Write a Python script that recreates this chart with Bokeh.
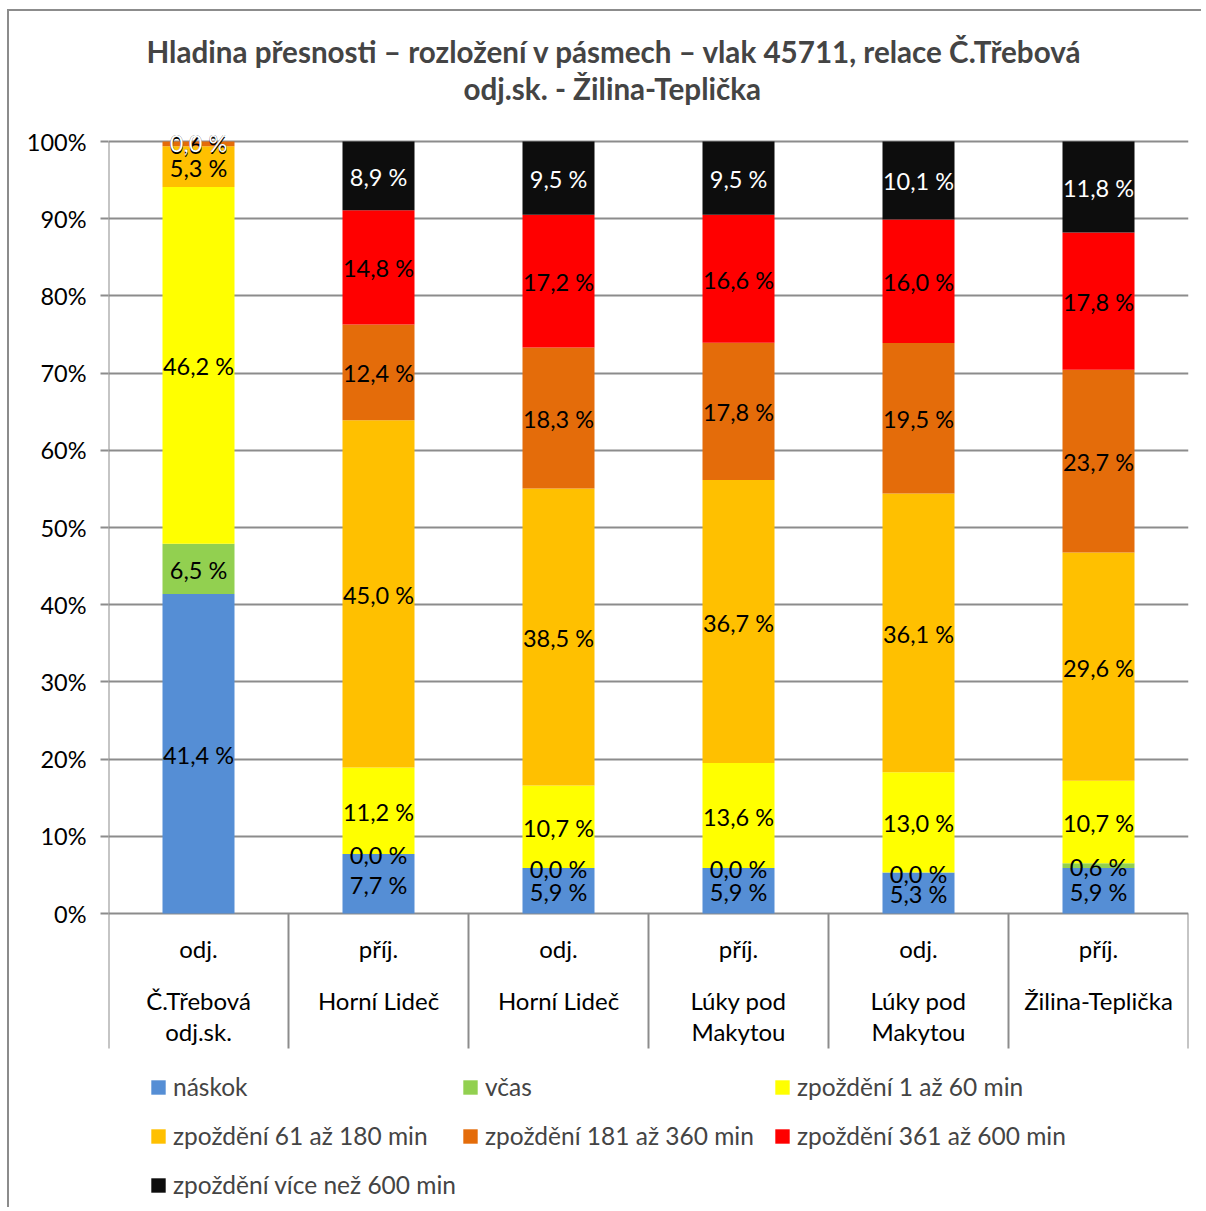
from bokeh.plotting import figure
from bokeh.models import (ColumnDataSource, FactorRange, Range1d, FixedTicker,
                          Legend, LegendItem, Title)
from bokeh.core.properties import value
from bokeh.embed import file_html
from bokeh.resources import INLINE

# ---------------- data ----------------
categories = ["odj. Č.Třebová odj.sk.", "příj. Horní Lideč", "odj. Horní Lideč",
              "příj. Lúky pod Makytou", "odj. Lúky pod Makytou", "příj. Žilina-Teplička"]
cat_type = ["odj.", "příj.", "odj.", "příj.", "odj.", "příj."]
cat_station = ["Č.Třebová\nodj.sk.", "Horní Lideč", "Horní Lideč",
               "Lúky pod\nMakytou", "Lúky pod\nMakytou", "Žilina-Teplička"]

series_names = ["náskok", "včas", "zpoždění 1 až 60 min", "zpoždění 61 až 180 min",
                "zpoždění 181 až 360 min", "zpoždění 361 až 600 min",
                "zpoždění více než 600 min"]
naskok = [41.4, 7.7, 5.9, 5.9, 5.3, 5.9]
vcas = [6.5, 0.0, 0.0, 0.0, 0.0, 0.6]
zp_1_60 = [46.2, 11.2, 10.7, 13.6, 13.0, 10.7]
zp_61_180 = [5.3, 45.0, 38.5, 36.7, 36.1, 29.6]
zp_181_360 = [0.6, 12.4, 18.3, 17.8, 19.5, 23.7]
zp_361_600 = [0.0, 14.8, 17.2, 16.6, 16.0, 17.8]
zp_600 = [0.0, 8.9, 9.5, 9.5, 10.1, 11.8]

y_ticks = [0, 10, 20, 30, 40, 50, 60, 70, 80, 90, 100]
y_tick_labels = ["0%", "10%", "20%", "30%", "40%", "50%", "60%", "70%", "80%", "90%", "100%"]

title_line1 = "Hladina přesnosti – rozložení v pásmech – vlak 45711, relace Č.Třebová"
title_line2 = "odj.sk. - Žilina-Teplička"

colors = ["#558ED5", "#92D050", "#FFFF00", "#FFC000", "#E46C0A", "#FF0000", "#0D0D0D"]
label_colors = ["black", "black", "black", "black", "black", "black", "white"]

series = [naskok, vcas, zp_1_60, zp_61_180, zp_181_360, zp_361_600, zp_600]
keys = ["s%d" % i for i in range(len(series))]

# 100 % stacked: normalise each column to its total
totals = [sum(s[j] for s in series) for j in range(len(categories))]
data = {"x": categories}
for k, s in zip(keys, series):
    data[k] = [v / t * 100.0 for v, t in zip(s, totals)]
src = ColumnDataSource(data)

FONT = "Lato"
PX = 7.72  # px per percent (frame geometry only)
FRAME_TOP_PAD = 21
FRAME_BOTTOM_PAD = 296

p = figure(x_range=FactorRange(*categories, range_padding=0),
           y_range=Range1d(-FRAME_BOTTOM_PAD / PX, 100 + FRAME_TOP_PAD / PX),
           width=1194, height=1198, output_backend="svg", toolbar_location=None,
           x_axis_location=None, title=title_line1,
           min_border_left=99, min_border_right=15, min_border_top=109, min_border_bottom=0)
p.styles = {"margin-left": "7px", "margin-top": "9px",
            "border-left": "2px solid #8c8c8c", "border-top": "2px solid #8c8c8c"}
p.outline_line_color = None
p.background_fill_color = "white"
p.border_fill_color = "white"

# titles
p.title.text_font = FONT
p.title.text_font_size = "29.6px"
p.title.text_font_style = "bold"
p.title.align = "left"
p.title.offset = 38
p.title.standoff = -28
t2 = Title(text=title_line2, text_font=FONT, text_font_size="29.6px",
           text_font_style="bold", align="left", offset=355, standoff=29)
p.add_layout(t2, "above")

# y axis
yax = p.yaxis[0]
yax.ticker = FixedTicker(ticks=y_ticks)
yax.major_label_overrides = {t: l for t, l in zip(y_ticks, y_tick_labels)}
yax.axis_line_color = None
yax.major_tick_in = 0
yax.major_tick_out = 8
yax.major_tick_line_color = "#8c8c8c"
yax.major_tick_line_width = 2
yax.minor_tick_line_color = None
yax.major_label_text_font = FONT
yax.major_label_text_font_size = "23.5px"
yax.major_label_text_color = "black"
yax.major_label_standoff = 14

p.xgrid.visible = False
p.ygrid.ticker = FixedTicker(ticks=y_ticks)
p.ygrid.grid_line_color = "#8c8c8c"
p.ygrid.grid_line_width = 2

# bars
renderers = p.vbar_stack(keys, x="x", width=0.4, color=colors, source=src, line_width=0)

# separators / left axis line
n = len(categories)
bottom_sep = -135 / PX
p.segment(x0=list(range(n + 1)), x1=list(range(n + 1)),
          y0=[100] + [0] * n, y1=[bottom_sep] * (n + 1),
          line_color="#8c8c8c", line_width=2)

# value labels
lx, ly, lt, lc = [], [], [], []
for j, c in enumerate(categories):
    base = 0.0
    for i, k in enumerate(keys):
        v = data[k][j]
        lx.append(c)
        ly.append(base + v / 2.0)
        lt.append(("%.1f %%" % series[i][j]).replace(".", ","))
        lc.append(label_colors[i])
        base += v
lsrc = ColumnDataSource(dict(x=lx, y=ly, text=lt, color=lc))
p.text(x="x", y="y", text="text", source=lsrc, text_color="color",
       text_font=value(FONT), text_font_size="23.5px",
       text_align="center", text_baseline="middle", y_offset=1)

# category labels
p.text(x=categories, y=[0] * n, text=cat_type, y_offset=35,
       text_font=value(FONT), text_font_size="24px", text_color="black",
       text_align="center", text_baseline="middle")
p.text(x=categories, y=[0] * n, text=cat_station, y_offset=72,
       text_font=value(FONT), text_font_size="24px", text_color="black",
       text_align="center", text_baseline="top", text_line_height=1.1)

# legend
items = [LegendItem(label=nm, renderers=[r]) for nm, r in zip(series_names, renderers)]
legend = Legend(items=items, location=(41, 0), orientation="horizontal", ncols=3,
                glyph_width=18, glyph_height=18, label_standoff=6,
                label_text_font=FONT, label_text_font_size="24.5px",
                label_height=49, label_width=288, spacing=0,
                padding=0, margin=0, border_line_color=None,
                background_fill_alpha=0)
p.add_layout(legend)

open("out.html", "w").write(file_html(p, INLINE))
